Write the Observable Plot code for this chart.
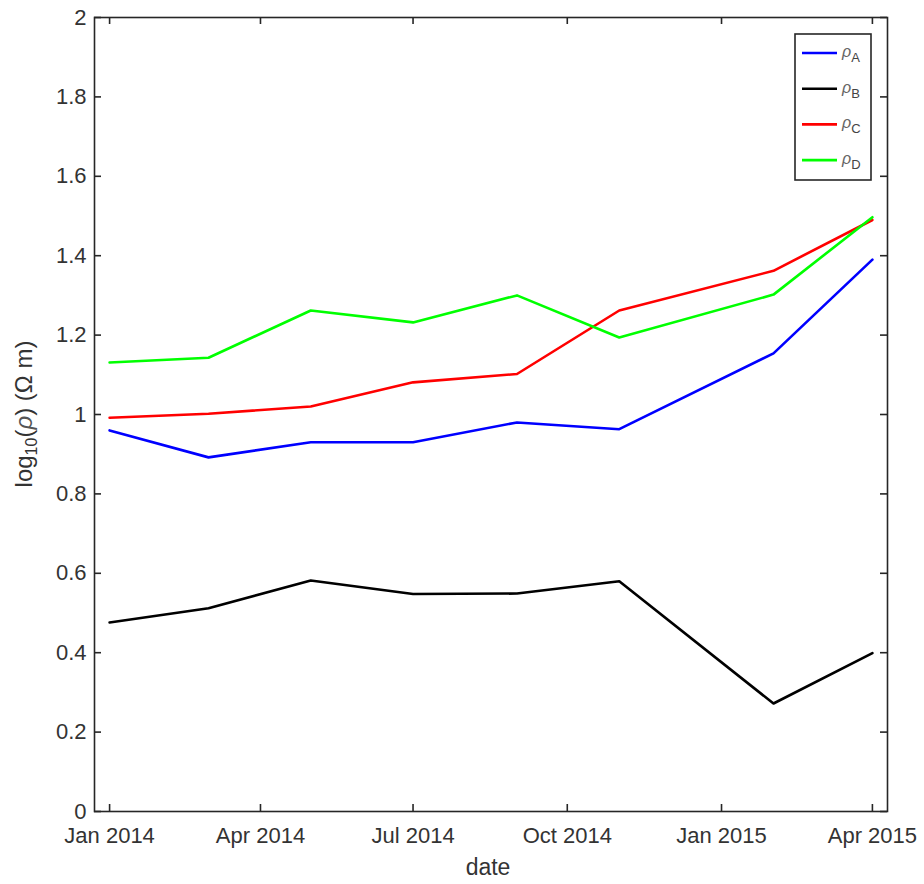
<!DOCTYPE html>
<html>
<head>
<meta charset="utf-8">
<script src="https://cdn.jsdelivr.net/npm/d3@7"></script>
<script src="https://cdn.jsdelivr.net/npm/@observablehq/plot@0.6"></script>
<style>
  body { margin: 0; background: #fff; }
  #chart svg { display: block; }
</style>
</head>
<body>
<div id="chart"></div>
<script>
// Sampling dates and log10 resistivity of the four series
const dates = ["2014-01-01", "2014-03-01", "2014-05-01", "2014-07-01", "2014-09-01", "2014-11-01", "2015-02-01", "2015-04-01"];
const rhoA = [0.960, 0.892, 0.930, 0.930, 0.980, 0.963, 1.154, 1.390];
const rhoB = [0.476, 0.512, 0.582, 0.548, 0.549, 0.580, 0.272, 0.399];
const rhoC = [0.992, 1.002, 1.020, 1.081, 1.102, 1.262, 1.362, 1.490];
const rhoD = [1.131, 1.143, 1.262, 1.232, 1.300, 1.194, 1.302, 1.497];

const seriesNames = ["A", "B", "C", "D"];
const seriesValues = [rhoA, rhoB, rhoC, rhoD];
const seriesColors = ["#0000ff", "#000000", "#ff0000", "#00ff00"];

const xTickDates = ["2014-01-01", "2014-04-01", "2014-07-01", "2014-10-01", "2015-01-01", "2015-04-01"];
const yTicks = [0, 0.2, 0.4, 0.6, 0.8, 1, 1.2, 1.4, 1.6, 1.8, 2];
const xDomain = ["2013-12-23", "2015-04-10"];

const parse = d3.utcParse("%Y-%m-%d");
const rows = seriesNames.flatMap((name, i) =>
  dates.map((d, j) => ({ date: parse(d), value: seriesValues[i][j], series: name }))
);
const xTicks = xTickDates.map(parse);

const W = 924, H = 884;
const mL = 94, mR = 37, mT = 17, mB = 73;
const frameW = W - mL - mR, frameH = H - mT - mB;
const tickLen = 7;

const axisColor = "#262626";
const fontFamily = "'Liberation Sans', Arial, Helvetica, sans-serif";

const chart = Plot.plot({
  width: W,
  height: H,
  marginLeft: mL,
  marginRight: mR,
  marginTop: mT,
  marginBottom: mB,
  style: { fontFamily, fontSize: "22px", color: axisColor, background: "#fff" },
  x: { type: "utc", domain: xDomain.map(parse) },
  y: { domain: [0, 2] },
  color: { domain: seriesNames, range: seriesColors },
  marks: [
    Plot.line(rows, { x: "date", y: "value", z: "series", stroke: "series", strokeWidth: 2.6 }),
    // inward ticks on all four sides
    Plot.tickX(xTicks, { x: d => d, insetTop: frameH - tickLen, stroke: axisColor, strokeWidth: 1.6 }),
    Plot.tickX(xTicks, { x: d => d, insetBottom: frameH - tickLen, stroke: axisColor, strokeWidth: 1.6 }),
    Plot.tickY(yTicks, { y: d => d, insetRight: frameW - tickLen, stroke: axisColor, strokeWidth: 1.6 }),
    Plot.tickY(yTicks, { y: d => d, insetLeft: frameW - tickLen, stroke: axisColor, strokeWidth: 1.6 }),
    Plot.frame({ stroke: axisColor, strokeWidth: 1.6 }),
    Plot.axisX({
      ticks: xTicks, tickFormat: d3.utcFormat("%b %Y"),
      tickSize: 0, tickPadding: 16, label: null, fill: "#333"
    }),
    Plot.axisY({
      ticks: yTicks, tickFormat: d3.format("~g"),
      tickSize: 0, tickPadding: 8, label: null, fill: "#333"
    }),
    Plot.text(["date"], {
      frameAnchor: "bottom", dy: 63, fontSize: 23, fill: "#333", dx: -3
    })
  ]
});

document.getElementById("chart").appendChild(chart);

const svg = d3.select(chart);
const [fx0, fx1] = chart.scale("x").range;
const [fy0, fy1] = chart.scale("y").range; // bottom, top
const frameTop = Math.min(fy0, fy1);
const frameBottom = Math.max(fy0, fy1);

// y axis label with subscript and Greek letters
const yLabel = svg.append("text")
  .attr("transform", `translate(${fx0 - 62},${(frameTop + frameBottom) / 2}) rotate(-90)`)
  .attr("text-anchor", "middle")
  .attr("font-family", fontFamily)
  .attr("font-size", 24)
  .attr("fill", "#333");
yLabel.append("tspan").text("log");
yLabel.append("tspan").attr("font-size", 16).attr("dy", 5).text("10");
yLabel.append("tspan").attr("dy", -5).text("(");
yLabel.append("tspan").attr("font-style", "italic").attr("fill", "#555").text("ρ");
yLabel.append("tspan").text(") (Ω m)");

// Legend box in the upper-right corner of the axes
const legW = 76, legH = 146, rowH = 35.7;
const legX = fx1 - 16 - legW, legY = frameTop + 17;
const legend = svg.append("g").attr("transform", `translate(${legX},${legY})`);
legend.append("rect")
  .attr("width", legW).attr("height", legH)
  .attr("fill", "#fff").attr("stroke", axisColor).attr("stroke-width", 1.6);
seriesNames.forEach((name, i) => {
  const cy = 19 + i * rowH;
  legend.append("line")
    .attr("x1", 7).attr("x2", 42).attr("y1", cy).attr("y2", cy)
    .attr("stroke", seriesColors[i]).attr("stroke-width", 2.6);
  const t = legend.append("text")
    .attr("x", 47).attr("y", cy + 4)
    .attr("text-anchor", "start")
    .attr("font-family", fontFamily)
    .attr("fill", "#444");
  t.append("tspan").attr("font-size", 16).attr("font-style", "italic").attr("fill", "#666").text("ρ");
  t.append("tspan").attr("font-size", 13).attr("dy", 5).text(name);
});
</script>
</body>
</html>
